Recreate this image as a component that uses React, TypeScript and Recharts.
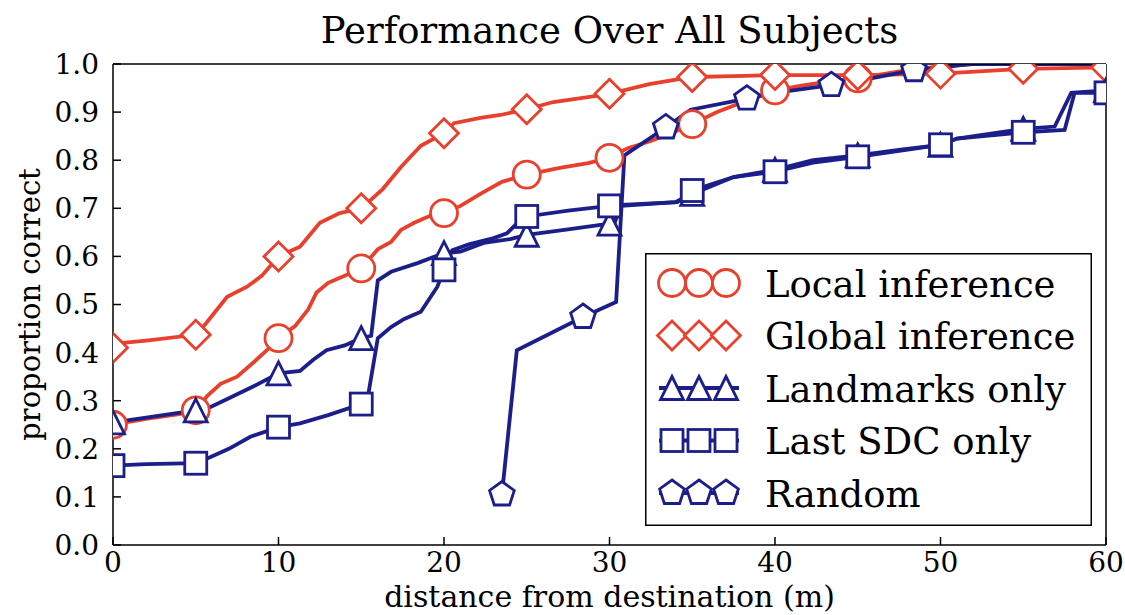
import React from 'react';
import { LineChart, Line, XAxis, YAxis, Legend } from 'recharts';

const FONT = '"DejaVu Serif", serif';
const RED = '#e8402d';
const BLUE = '#1c1e8a';

const xTicks = [0, 10, 20, 30, 40, 50, 60];
const yTicks = [0, 0.1, 0.2, 0.3, 0.4, 0.5, 0.6, 0.7, 0.8, 0.9, 1.0];

// [distance (m), proportion correct]
const localInference: [number, number][] = [
  [0, 0.25], [2, 0.262], [4, 0.272], [5, 0.28], [5.7, 0.31], [6.5, 0.335], [7.5, 0.35],
  [8.5, 0.38], [9.3, 0.405], [10, 0.43], [11, 0.455], [11.8, 0.49], [12.3, 0.525],
  [13, 0.545], [14, 0.56], [15, 0.575], [16, 0.615], [16.8, 0.63], [17.4, 0.655],
  [18.2, 0.67], [19.2, 0.685], [20, 0.69], [21, 0.705], [22.2, 0.73], [23.5, 0.755],
  [25, 0.77], [27, 0.784], [28.7, 0.794], [30, 0.805], [31.1, 0.825], [32.5, 0.84],
  [34, 0.86], [35, 0.875], [36.5, 0.9], [38, 0.92], [40, 0.945], [41.6, 0.955],
  [43.5, 0.965], [45, 0.97], [47.6, 0.985], [50, 0.995], [52, 1.0], [60, 1.0],
];

const globalInference: [number, number][] = [
  [0, 0.41], [0.6, 0.42], [2, 0.425], [5, 0.437], [5.6, 0.46], [6.9, 0.516], [8.1, 0.537],
  [9, 0.56], [10, 0.6], [11.3, 0.62], [12.5, 0.67], [13.7, 0.69], [15, 0.7], [16.3, 0.74],
  [17.4, 0.786], [18.6, 0.83], [20, 0.856], [20.6, 0.877], [22.2, 0.888], [23.4, 0.894],
  [25, 0.906], [26.6, 0.921], [28.7, 0.931], [30, 0.938], [32.4, 0.958], [35, 0.973],
  [37.5, 0.975], [40, 0.977], [45, 0.977], [47, 0.978], [50, 0.98], [55, 0.99], [60, 0.993],
];

const landmarksOnly: [number, number][] = [
  [0, 0.255], [2, 0.265], [5, 0.28], [5.9, 0.287], [7, 0.305], [8.5, 0.33], [10, 0.357],
  [11.3, 0.362], [12.1, 0.385], [12.9, 0.405], [14, 0.415], [15, 0.43], [15.6, 0.435],
  [16, 0.55], [16.8, 0.568], [18.4, 0.586], [20, 0.607], [21, 0.61], [22.4, 0.628],
  [24, 0.636], [25, 0.645], [27.5, 0.656], [30, 0.668], [30.3, 0.669], [30.7, 0.705],
  [34, 0.713], [35, 0.73], [37.5, 0.765], [40, 0.78], [42.3, 0.8], [45, 0.81],
  [47.6, 0.822], [50, 0.832], [51, 0.845], [55, 0.865], [56.9, 0.87], [57.9, 0.94], [60, 0.945],
];

const lastSdcOnly: [number, number][] = [
  [0, 0.165], [2, 0.168], [5, 0.17], [5.9, 0.183], [7, 0.2], [8.3, 0.225], [10, 0.245],
  [11.3, 0.253], [13, 0.27], [15, 0.293], [15.4, 0.308], [16, 0.43], [16.8, 0.453],
  [17.6, 0.47], [18.6, 0.485], [19.6, 0.537], [20, 0.572], [20.5, 0.613], [21.5, 0.625],
  [23, 0.638], [23.8, 0.648], [24.6, 0.675], [25, 0.683], [27.5, 0.695], [30, 0.705],
  [30.7, 0.707], [34.1, 0.713], [35, 0.737], [37.5, 0.765], [40, 0.776], [42.3, 0.795],
  [45, 0.807], [47.6, 0.82], [50, 0.832], [51, 0.845], [55, 0.858], [57.5, 0.863],
  [58.1, 0.94], [60, 0.94],
];

const randomGuess: [number, number][] = [
  [23.5, 0.105], [24.4, 0.405], [28.4, 0.474], [30.4, 0.505], [30.9, 0.81], [33.4, 0.868],
  [34.9, 0.905], [38.3, 0.928], [40, 0.94], [43.4, 0.956], [45, 0.965], [48.4, 0.987],
  [51.8, 1.0], [60, 1.0],
];

// distances that carry a marker on each curve
const everyFive = [0, 5, 10, 15, 20, 25, 30, 35, 40, 45, 50, 55, 60];
const localMarks = [0, 5, 10, 15, 20, 25, 30, 35, 40, 45];
const randomMarks = [23.5, 28.4, 33.4, 38.3, 43.4, 48.4];

type Shape = 'circle' | 'diamond' | 'triangle' | 'square' | 'pentagon';

interface Series {
  name: string;
  data: [number, number][];
  marks: number[];
  shape: Shape;
  color: string;
}

const series: Series[] = [
  { name: 'Local inference', data: localInference, marks: localMarks, shape: 'circle', color: RED },
  { name: 'Global inference', data: globalInference, marks: everyFive, shape: 'diamond', color: RED },
  { name: 'Landmarks only', data: landmarksOnly, marks: everyFive, shape: 'triangle', color: BLUE },
  { name: 'Last SDC only', data: lastSdcOnly, marks: everyFive, shape: 'square', color: BLUE },
  { name: 'Random', data: randomGuess, marks: randomMarks, shape: 'pentagon', color: BLUE },
];

function Marker({ shape, cx, cy, color }: { shape: Shape; cx: number; cy: number; color: string }) {
  const common = { fill: '#fff', stroke: color, strokeWidth: 2.8 };
  switch (shape) {
    case 'circle':
      return <circle cx={cx} cy={cy} r={13.5} {...common} />;
    case 'diamond': {
      const d = 14.5;
      return <polygon points={`${cx},${cy - d} ${cx + d},${cy} ${cx},${cy + d} ${cx - d},${cy}`} {...common} />;
    }
    case 'triangle': {
      const t = 11.5;
      return <polygon points={`${cx},${cy - t} ${cx + t},${cy + t} ${cx - t},${cy + t}`} {...common} />;
    }
    case 'square':
      return <rect x={cx - 11} y={cy - 11} width={22} height={22} {...common} />;
    default: {
      const r = 13;
      const pts = [0, 1, 2, 3, 4]
        .map((k) => {
          const a = ((-90 + 72 * k) * Math.PI) / 180;
          return `${cx + r * Math.cos(a)},${cy + r * Math.sin(a)}`;
        })
        .join(' ');
      return <polygon points={pts} {...common} />;
    }
  }
}

function LegendBox() {
  return (
    <svg width={447} height={273} style={{ display: 'block' }}>
      <rect x={0.75} y={0.75} width={445.5} height={271.5} fill="#fff" stroke="#000" strokeWidth={1.5} />
      {series.map((s, i) => {
        const cy = 30 + i * 52.5;
        return (
          <g key={s.name}>
            <line x1={14} x2={94} y1={cy} y2={cy} stroke={s.color} strokeWidth={3.8} />
            {[27, 54, 81].map((cx) => (
              <Marker key={cx} shape={s.shape} cx={cx} cy={cy} color={s.color} />
            ))}
            <text x={120} y={cy + 13.5} fontFamily={FONT} fontSize={37} fill="#000">
              {s.name}
            </text>
          </g>
        );
      })}
    </svg>
  );
}

function YLabel(props: any) {
  const vb = props.viewBox || { x: 0, y: 64, width: 113, height: 481 };
  const cx = vb.x + 30;
  const cy = vb.y + vb.height / 2;
  return (
    <text
      transform={`translate(${cx},${cy}) rotate(-90)`}
      textAnchor="middle"
      dominantBaseline="central"
      fontFamily={FONT}
      fontSize={29}
      fill="#000"
    >
      proportion correct
    </text>
  );
}

const axisLine = { stroke: '#000', strokeWidth: 1.5 };
const tickLine = { stroke: '#000', strokeWidth: 1.5 };
const tickText = { fill: '#000', fontSize: 28, fontFamily: FONT };

export default function App() {
  return (
    <div style={{ position: 'absolute', left: 0, top: 0, width: 1125, height: 615, background: '#fff' }}>
      <LineChart width={1125} height={615} margin={{ top: 63, right: 18, bottom: 0, left: 0 }}>
        <XAxis
          dataKey="x"
          type="number"
          domain={[0, 60]}
          ticks={xTicks}
          allowDataOverflow
          height={70}
          tickSize={-8}
          tickMargin={15}
          axisLine={axisLine}
          tickLine={tickLine}
          tick={tickText}
          label={{
            value: 'distance from destination (m)',
            position: 'insideBottom',
            offset: 8,
            fill: '#000',
            fontSize: 30,
            fontFamily: FONT,
          }}
        />
        <XAxis
          xAxisId="top"
          orientation="top"
          type="number"
          domain={[0, 60]}
          ticks={xTicks}
          allowDataOverflow
          height={1}
          tickSize={-8}
          tick={false}
          axisLine={axisLine}
          tickLine={tickLine}
          label={{
            value: 'Performance Over All Subjects',
            position: 'top',
            offset: 20,
            fill: '#000',
            fontSize: 37,
            fontFamily: FONT,
          }}
        />
        <YAxis
          type="number"
          domain={[0, 1]}
          ticks={yTicks}
          allowDataOverflow
          width={113}
          tickSize={-8}
          tickMargin={22}
          tickFormatter={(v: number) => v.toFixed(1)}
          axisLine={axisLine}
          tickLine={tickLine}
          tick={tickText}
          label={<YLabel />}
        />
        <YAxis
          yAxisId="right"
          orientation="right"
          type="number"
          domain={[0, 1]}
          ticks={yTicks}
          allowDataOverflow
          width={1}
          tickSize={-8}
          tick={false}
          axisLine={axisLine}
          tickLine={tickLine}
        />
        <Legend
          layout="vertical"
          align="center"
          verticalAlign="middle"
          content={() => <LegendBox />}
          wrapperStyle={{ left: 645, top: 253, width: 447, height: 273 }}
        />
        {series.map((s) => (
          <Line
            key={s.name}
            name={s.name}
            data={s.data.map(([x, y]) => ({ x, y }))}
            dataKey="y"
            type="linear"
            stroke={s.color}
            strokeWidth={3.8}
            activeDot={false}
            isAnimationActive={false}
            dot={(p: any) =>
              s.marks.includes(p.payload.x) ? (
                <Marker key={`${s.name}-${p.index}`} shape={s.shape} cx={p.cx} cy={p.cy} color={s.color} />
              ) : (
                <g key={`${s.name}-${p.index}`} />
              )
            }
          />
        ))}
      </LineChart>
    </div>
  );
}
